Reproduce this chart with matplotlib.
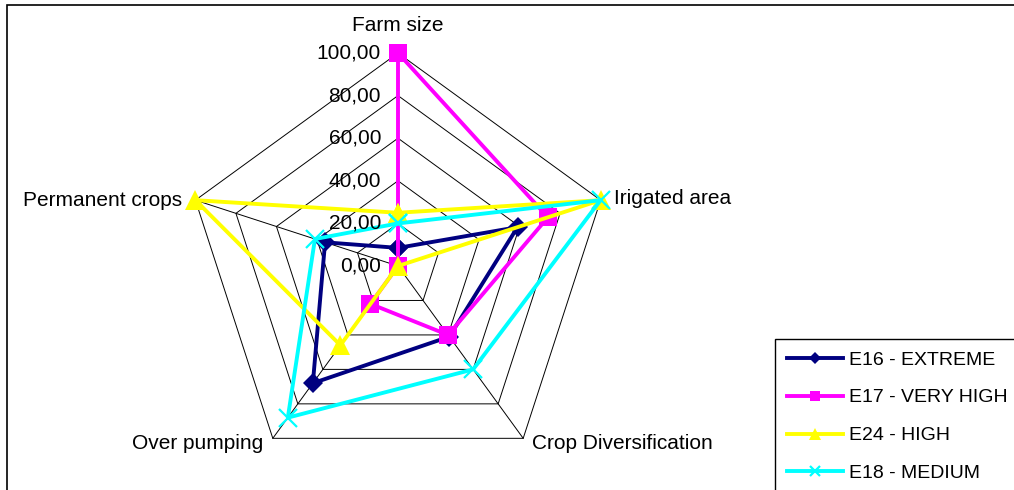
import numpy as np
import matplotlib
matplotlib.use('Agg')
import matplotlib.pyplot as plt
from matplotlib.lines import Line2D
from matplotlib.patches import Rectangle

plt.rcParams['font.family'] = ['Liberation Sans', 'DejaVu Sans']

# criteria, clockwise from the top
categories = ['Farm size', 'Irigated area', 'Crop Diversification', 'Over pumping', 'Permanent crops']

e16 = [8.5, 59, 41, 68, 36]
e17 = [100, 74, 40, 22, 0]
e24 = [25, 100, 0, 46, 100]
e18 = [20, 100, 60, 88, 41]

series_names = ['E16 - EXTREME', 'E17 - VERY HIGH', 'E24 - HIGH', 'E18 - MEDIUM']
levels = [0, 20, 40, 60, 80, 100]
level_labels = ['0,00', '20,00', '40,00', '60,00', '80,00', '100,00']

W, H = 1014, 490
fig = plt.figure(figsize=(W / 100, H / 100), dpi=100)

# chart centre and radius in pixels
cx, cy, R = 398, 266, 213
ax = fig.add_axes([(cx - R) / W, (H - cy - R) / H, 2 * R / W, 2 * R / H], projection='polar')
ax.set_theta_offset(np.pi / 2)
ax.set_theta_direction(-1)
ax.set_ylim(0, 100)
ax.grid(False)
ax.set_xticks([])
ax.set_yticks([])
ax.spines['polar'].set_visible(False)
ax.patch.set_visible(False)

n = len(categories)
theta = np.linspace(0, 2 * np.pi, n, endpoint=False)
theta_closed = np.append(theta, theta[0])

# pentagon web
for lv in levels[1:]:
    ax.plot(theta_closed, [lv] * (n + 1), color='black', lw=0.7, zorder=1, clip_on=False)
for t in theta:
    ax.plot([t, t], [0, 100], color='black', lw=0.7, zorder=1, clip_on=False)

styles = [
    dict(color='#000080', marker='D', ms=10, mew=0),
    dict(color='#ff00ff', marker='s', ms=13, mew=0),
    dict(color='#ffff00', marker='^', ms=14, mew=0),
    dict(color='#00ffff', marker='x', ms=13, mew=1.6),
]
handles = []
for vals, name, st in zip([e16, e17, e24, e18], series_names, styles):
    v = np.append(vals, vals[0])
    ax.plot(theta_closed, v, color=st['color'], lw=2.8, marker=st['marker'],
            ms=st['ms'], mew=st['mew'], mec=st['color'], zorder=3, clip_on=False)
    handles.append(Line2D([], [], color=st['color'], lw=2.8, marker=st['marker'],
                          ms=st['ms'] * 0.6, mew=st['mew'], mec=st['color']))

# value labels along the top spoke
for lv, lab in zip(levels, level_labels):
    ax.annotate(lab, xy=(0, lv), xytext=(-17, 0), textcoords='offset pixels',
                ha='right', va='center', fontsize=15, zorder=4, annotation_clip=False)

# category labels
offsets = [(0, 28, 'center'), (13, 2, 'left'), (9, -5, 'left'), (-10, -5, 'right'), (-13, 0, 'right')]
for t, cat, (dx, dy, ha) in zip(theta, categories, offsets):
    ax.annotate(cat, xy=(t, 100), xytext=(dx, dy), textcoords='offset pixels',
                ha=ha, va='center', fontsize=15, annotation_clip=False)

leg = fig.legend(handles, series_names, loc='upper left',
                 bbox_to_anchor=(775 / W, 1 - 339 / H), bbox_transform=fig.transFigure,
                 borderaxespad=0, fontsize=14, frameon=True, fancybox=False,
                 edgecolor='black', framealpha=1, handlelength=2.9, handletextpad=0.3,
                 labelspacing=1.04, borderpad=0.62, numpoints=1)
leg.get_frame().set_linewidth(1.0)

# outer chart border (runs off the right and bottom edges)
fig.patches.append(Rectangle((7 / W, -0.1), 1.1, 1.1 - 5 / H, transform=fig.transFigure,
                             fill=False, edgecolor='black', lw=1.2, zorder=0))

fig.savefig('out.png', dpi=100)
